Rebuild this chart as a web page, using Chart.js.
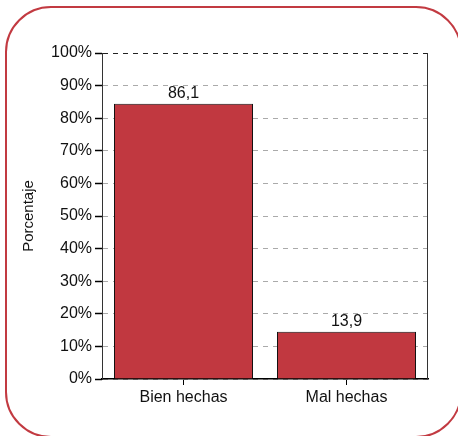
<!DOCTYPE html>
<html>
<head>
<meta charset="utf-8">
<script src="https://cdn.jsdelivr.net/npm/chart.js@4/dist/chart.umd.min.js"></script>
<style>
  html, body { margin: 0; padding: 0; background: #fff; }
  #wrap { position: relative; width: 458px; height: 436px; overflow: hidden; }
  #frame {
    position: absolute; left: 5px; top: 6px; width: 457px; height: 432px;
    box-sizing: border-box; border: 2.5px solid #c23a41; border-radius: 46px;
  }
  canvas { position: absolute; left: 0; top: 0; }
</style>
</head>
<body>
<div id="wrap">
  <div id="frame"></div>
  <canvas id="chart" width="458" height="436"></canvas>
</div>
<script>
// data
const categories = ['Bien hechas', 'Mal hechas'];
const values = [84.4, 14.5];          // bar heights as drawn
const valueLabels = ['86,1', '13,9']; // printed above the bars
const yTicks = [0, 10, 20, 30, 40, 50, 60, 70, 80, 90, 100];

const FONT = '"Liberation Sans", Arial, Helvetica, sans-serif';

// labels on top of each bar + solid left / right edges of the plot
const extras = {
  id: 'extras',
  afterDatasetsDraw(chart) {
    const ctx = chart.ctx;
    const meta = chart.getDatasetMeta(0);
    ctx.save();
    ctx.font = '16px ' + FONT;
    ctx.fillStyle = '#111';
    ctx.textAlign = 'center';
    ctx.textBaseline = 'bottom';
    meta.data.forEach((bar, i) => {
      ctx.fillText(valueLabels[i], bar.x, bar.y - 2);
    });
    const a = chart.chartArea;
    ctx.setLineDash([]);
    ctx.strokeStyle = '#333';
    ctx.lineWidth = 1;
    ctx.beginPath();
    ctx.moveTo(Math.round(a.right) - 0.5, a.top);
    ctx.lineTo(Math.round(a.right) - 0.5, a.bottom);
    ctx.moveTo(Math.round(a.left) + 0.5, a.top);
    ctx.lineTo(Math.round(a.left) + 0.5, a.bottom);
    ctx.stroke();
    ctx.restore();
  }
};

new Chart(document.getElementById('chart'), {
  type: 'bar',
  data: {
    labels: categories,
    datasets: [{
      data: values,
      backgroundColor: '#c13840',
      borderColor: '#111',
      borderWidth: 1,
      categoryPercentage: 1,
      barPercentage: 0.853
    }]
  },
  options: {
    responsive: false,
    animation: false,
    devicePixelRatio: 1,
    layout: { padding: { left: 16, top: 53, right: 30, bottom: 0 } },
    plugins: { legend: { display: false }, tooltip: { enabled: false } },
    scales: {
      x: {
        afterFit(scale) { scale.height = 57; },
        grid: {
          offset: false,
          drawOnChartArea: false,
          tickLength: 6,
          tickColor: '#000'
        },
        border: { color: '#000', width: 1.5 },
        ticks: { color: '#111', font: { family: FONT, size: 16 }, padding: 3 }
      },
      y: {
        min: 0,
        max: 100,
        afterFit(scale) { scale.width = 86; },
        afterBuildTicks(scale) { scale.ticks = yTicks.map(v => ({ value: v })); },
        grid: {
          color: c => c.tick && c.tick.value === 100 ? '#222' : '#aaa',
          tickLength: 7,
          tickColor: '#000',
          tickWidth: 1.5,
          tickBorderDash: []
        },
        border: { color: '#333', width: 1, dash: [5, 5] },
        ticks: {
          color: '#111',
          font: { family: FONT, size: 16 },
          padding: 3,
          callback: v => v + '%'
        },
        title: {
          display: true,
          text: 'Porcentaje',
          color: '#111',
          font: { family: FONT, size: 15 },
          padding: { top: 4, bottom: 4 }
        }
      }
    }
  },
  plugins: [extras]
});
</script>
</body>
</html>
